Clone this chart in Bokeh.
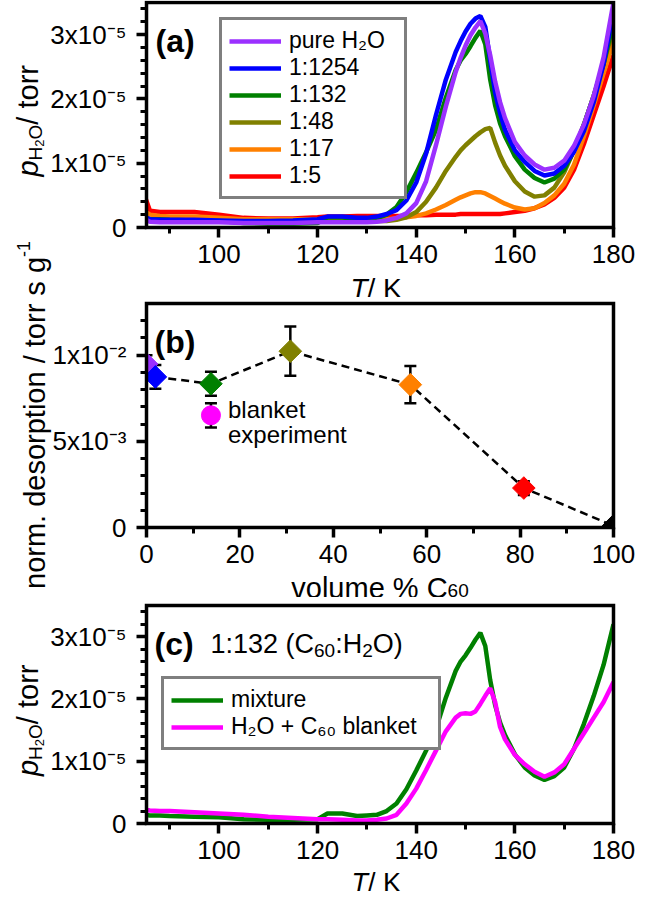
import math
from bokeh.plotting import figure
from bokeh.models import (Range1d, FixedTicker, Label, Legend, LegendItem, ColumnDataSource,
                          Whisker, TeeHead, CustomJSTickFormatter, BoxAnnotation)
from bokeh.layouts import column
from bokeh.embed import file_html
from bokeh.resources import INLINE

FONT = "Liberation Sans"

# ---------------- data ----------------
# temperature grid (K)
temperature = [85, 86, 88, 90, 95, 100, 105, 110, 115, 120, 122, 125, 128, 130, 132, 134, 136, 138,
               140, 142, 144, 146, 148, 149, 150, 151, 152, 153, 154, 155, 156, 157, 158, 160, 162,
               164, 166, 168, 170, 172, 174, 176, 178, 180]
# H2O partial pressure, in units of 1e-5 torr
p_pure = [0.13, 0.09, 0.08, 0.08, 0.08, 0.08, 0.07, 0.07, 0.07, 0.08, 0.08, 0.08, 0.08, 0.08, 0.09, 0.11,
          0.15, 0.22, 0.38, 0.72, 1.28, 1.88, 2.42, 2.64, 2.83, 2.99, 3.11, 3.21, 3.02, 2.68, 2.27, 1.95,
          1.7, 1.33, 1.12, 0.98, 0.9, 0.93, 1.04, 1.27, 1.6, 2.05, 2.65, 3.5]
p_1254 = [0.16, 0.13, 0.12, 0.12, 0.12, 0.11, 0.1, 0.1, 0.11, 0.13, 0.17, 0.17, 0.15, 0.15, 0.17, 0.21,
          0.27, 0.42, 0.7, 1.15, 1.75, 2.3, 2.73, 2.9, 3.05, 3.17, 3.25, 3.29, 3.12, 2.6, 2.1, 1.78,
          1.52, 1.2, 1.02, 0.88, 0.81, 0.84, 0.96, 1.18, 1.5, 1.95, 2.55, 3.37]
p_132 = [0.14, 0.13, 0.13, 0.12, 0.11, 0.1, 0.07, 0.06, 0.06, 0.07, 0.16, 0.16, 0.12, 0.13, 0.14, 0.2,
         0.32, 0.55, 0.85, 1.17, 1.52, 2.02, 2.45, 2.6, 2.7, 2.82, 2.95, 3.06, 2.85, 2.3, 1.9, 1.62,
         1.42, 1.11, 0.9, 0.77, 0.7, 0.76, 0.9, 1.2, 1.6, 2.05, 2.55, 3.2]
p_48 = [0.12, 0.11, 0.11, 0.11, 0.1, 0.1, 0.09, 0.09, 0.09, 0.09, 0.1, 0.1, 0.1, 0.1, 0.1, 0.1,
        0.12, 0.16, 0.24, 0.4, 0.62, 0.88, 1.1, 1.2, 1.28, 1.35, 1.42, 1.48, 1.53, 1.55, 1.32, 1.12,
        0.96, 0.72, 0.56, 0.48, 0.5, 0.62, 0.86, 1.2, 1.6, 2.05, 2.55, 3.1]
p_17 = [0.25, 0.2, 0.18, 0.17, 0.17, 0.15, 0.13, 0.13, 0.13, 0.13, 0.13, 0.13, 0.13, 0.13, 0.13, 0.13,
        0.14, 0.16, 0.18, 0.22, 0.28, 0.35, 0.43, 0.47, 0.5, 0.53, 0.55, 0.55, 0.53, 0.49, 0.45, 0.41,
        0.37, 0.31, 0.28, 0.3, 0.38, 0.5, 0.68, 0.98, 1.42, 1.9, 2.4, 2.9]
p_5 = [0.48, 0.26, 0.24, 0.24, 0.24, 0.2, 0.15, 0.14, 0.14, 0.16, 0.17, 0.17, 0.18, 0.18, 0.18, 0.18,
       0.18, 0.18, 0.19, 0.19, 0.2, 0.2, 0.2, 0.21, 0.21, 0.21, 0.21, 0.21, 0.21, 0.21, 0.21, 0.21,
       0.22, 0.24, 0.26, 0.3, 0.36, 0.46, 0.62, 0.9, 1.3, 1.75, 2.2, 2.68]
p_blanket = [0.22, 0.21, 0.2, 0.2, 0.18, 0.16, 0.14, 0.11, 0.09, 0.07, 0.07, 0.06, 0.05, 0.05, 0.06, 0.08,
             0.14, 0.32, 0.56, 0.86, 1.17, 1.48, 1.7, 1.76, 1.77, 1.76, 1.8, 1.92, 2.05, 2.17, 1.95, 1.55,
             1.35, 1.1, 0.95, 0.83, 0.75, 0.82, 0.95, 1.2, 1.45, 1.7, 1.95, 2.27]
UNIT = 1e-5

series_labels = ["pure H\u2082O", "1:1254", "1:132", "1:48", "1:17", "1:5"]
series_values = [p_pure, p_1254, p_132, p_48, p_17, p_5]
series_colors = ["#9B30FF", "#0000FF", "#008000", "#808000", "#FF8000", "#FF0000"]

# panel (b): normalised desorption vs volume % C60
vol_pct = [0.0, 1.9, 13.8, 30.8, 56.5, 80.8, 100.0]
norm_des = [9.49e-3, 8.74e-3, 8.34e-3, 10.23e-3, 8.29e-3, 2.29e-3, 0.1e-3]
norm_err = [0.5e-3, 0.69e-3, 0.7e-3, 1.43e-3, 1.08e-3, 0.4e-3, 0.0]
point_colors = ["#9B30FF", "#0000FF", "#008000", "#808000", "#FF8000", "#FF0000", "#000000"]
blanket_vol = [13.8]
blanket_des = [6.51e-3]
blanket_err = [0.7e-3]

# ticks and tick labels
T_major = [100, 120, 140, 160, 180]
T_minor = [90, 110, 130, 150, 170]
p_major = [0, 1e-5, 2e-5, 3e-5]
p_minor = [k * 0.2e-5 for k in range(1, 18) if k % 5]
p_tick_labels = ["0", "1x10\u207b\u2075", "2x10\u207b\u2075", "3x10\u207b\u2075"]
v_major = [0, 20, 40, 60, 80, 100]
v_minor = [10, 30, 50, 70, 90]
d_major = [0, 5e-3, 1e-2]
d_minor = [k * 1e-3 for k in range(1, 13) if k % 5]
d_tick_labels = ["0", "5x10\u207b\u00b3", "1x10\u207b\u00b2"]

T_BOX = (85.3, 180.0)
P_BOX = (0.0, 3.5e-5)
V_BOX = (0.0, 100.0)
D_BOX = (0.0, 0.013)

# ---------------- layout helpers ----------------
W = {'0': 556, '1': 556, '2': 556, '3': 556, '4': 556, '5': 556, '6': 556, '7': 556, '8': 556,
     '9': 556, 'x': 500, '-': 333, ':': 278, ' ': 278, '(': 333, ')': 333, 'C': 722, 'H': 722,
     'O': 778, 'T': 611, 'K': 667, '/': 278, 'p': 556, 't': 278, 'o': 556, 'r': 333, 'v': 500,
     'l': 222, 'u': 556, 'm': 833, 'e': 556, '%': 889, 'n': 556, '.': 278, 'd': 556, 's': 500,
     'i': 222, 'g': 556}


def tw(s, size):
    return sum(W.get(c, 556) for c in s) * size / 1000.0


CANVAS_W = 635
BOX_L, BOX_R = 146, 613      # plot box edges, pixels from the canvas' left


class Panel:
    """A figure whose frame is the whole canvas; the plot box is a sub-region of it."""

    def __init__(self, height, box_top, box_bottom, xbox, ybox, xt, xm, yt, ym, ylabels):
        self.dx = (xbox[1] - xbox[0]) / (BOX_R - BOX_L)
        self.dy = (ybox[1] - ybox[0]) / (box_bottom - box_top)
        xr = Range1d(xbox[0] - BOX_L * self.dx, xbox[1] + (CANVAS_W - BOX_R) * self.dx)
        yr = Range1d(ybox[0] - (height - box_bottom) * self.dy, ybox[1] + box_top * self.dy)
        self.xr, self.yr, self.xbox, self.ybox = xr, yr, xbox, ybox
        p = figure(width=CANVAS_W, height=height, frame_width=CANVAS_W, frame_height=height,
                   x_range=xr, y_range=yr,
                   min_border=0, min_border_left=0, min_border_right=0, min_border_top=0,
                   min_border_bottom=0, output_backend="svg", toolbar_location=None,
                   background_fill_color="white", border_fill_color="white",
                   outline_line_color=None)
        p.grid.visible = False
        p.xaxis.ticker = FixedTicker(ticks=xt, minor_ticks=xm)
        p.yaxis.ticker = FixedTicker(ticks=yt, minor_ticks=ym)
        p.yaxis.formatter = CustomJSTickFormatter(args=dict(vals=yt, labs=ylabels), code="""
            for (let i = 0; i < vals.length; i++) {
                if (Math.abs(tick - vals[i]) <= 1e-9 * Math.max(1e-12, Math.abs(vals[i]))) { return labs[i]; }
            }
            return '';
        """)
        p.xaxis.fixed_location = ybox[0]
        p.yaxis.fixed_location = xbox[0]
        for ax in (p.xaxis[0], p.yaxis[0]):
            ax.axis_line_color = None
            ax.major_tick_line_width = 3.5
            ax.minor_tick_line_width = 3
            ax.major_tick_out = 10
            ax.major_tick_in = 0
            ax.minor_tick_out = 6
            ax.minor_tick_in = 0
            ax.major_label_text_font = FONT
            ax.major_label_text_font_size = "26px"
            ax.major_label_text_color = "black"
        p.xaxis.major_label_standoff = 7
        p.yaxis.major_label_standoff = 10
        self.p = p

    def cx(self, px):
        return self.xr.start + px * self.dx

    def cy(self, py):
        return self.yr.end - py * self.dy

    def finish(self):
        # white out whatever spills over the plot box, then draw the box itself
        xr, yr, xb, yb = self.xr, self.yr, self.xbox, self.ybox
        self.p.quad(left=[xr.start, xb[1], xr.start, xr.start], right=[xb[0], xr.end, xr.end, xr.end],
                    bottom=[yr.start, yr.start, yr.start, yb[1]], top=[yr.end, yr.end, yb[0], yr.end],
                    fill_color="white", line_color=None)
        self.p.add_layout(BoxAnnotation(left=xb[0], right=xb[1], bottom=yb[0], top=yb[1],
                                        fill_color=None, fill_alpha=0, line_color="black",
                                        line_alpha=1.0, line_width=3.5, line_join="miter"))

    def text(self, px, py, text, size, style="normal", angle=0.0):
        self.p.add_layout(Label(x=self.cx(px), y=self.cy(py), text=text, angle=angle,
                                text_font=FONT, text_font_size=f"{size}px",
                                text_font_style=style, text_color="black",
                                text_align="left", text_baseline="alphabetic"))

    def hrun(self, px, py, pieces):
        for text, size, style, shift in pieces:
            self.text(px, py + shift, text, size, style)
            px += tw(text, size)

    def vrun(self, px, py, pieces):
        # reads bottom-to-top; shift > 0 moves a piece below the baseline (to the right)
        for text, size, style, shift in pieces:
            self.text(px + shift, py, text, size, style, angle=math.pi / 2)
            py -= tw(text, size)


def style_legend(leg):
    leg.label_text_font = FONT
    leg.label_text_font_size = "23px"
    leg.label_text_color = "black"
    leg.glyph_width = 52
    leg.glyph_height = 26
    leg.label_height = 26
    leg.label_standoff = 8
    leg.padding = 7
    leg.spacing = 0
    leg.margin = 0
    leg.border_line_color = "black"
    leg.border_line_width = 3
    leg.background_fill_color = "white"
    leg.background_fill_alpha = 1.0


P_TITLE = [("p", 29, "italic", 0), ("H", 19, "normal", 8), ("2", 13, "normal", 12),
           ("O", 19, "normal", 8), (" / torr", 29, "normal", 0)]
B_TITLE_MAIN = "norm. desorption / torr"
BOX_CX = (BOX_L + BOX_R) / 2

HA, HB, HC = 297, 300, 294

# ---------------- panel (a) ----------------
A = Panel(HA, 2, 227, T_BOX, P_BOX, T_major, T_minor, p_major, p_minor, p_tick_labels)
rend = {}
for name, vals, col in reversed(list(zip(series_labels, series_values, series_colors))):
    rend[name] = A.p.line(temperature, [v * UNIT for v in vals], line_color=col, line_width=4.5)
A.finish()
leg_a = Legend(items=[LegendItem(label=n, renderers=[rend[n]]) for n in series_labels],
               location=(219, 98))
style_legend(leg_a)
leg_a.label_width = 108
A.p.add_layout(leg_a)
A.text(155, 40, "(a)", 32, "bold")
A.vrun(27, 176, P_TITLE)
# the upper end of panel (b)'s y-axis title reaches up beside panel (a)
B_TITLE_START = 291.5
A.vrun(34, HA + B_TITLE_START - tw(B_TITLE_MAIN + " ", 29),
       [("s g", 29, "normal", 0), ("-1", 18, "normal", -11)])
A.hrun(BOX_CX - 29.6, 288, [("T", 28, "italic", 0), (" / K", 28, "normal", 0)])

# ---------------- panel (b) ----------------
B = Panel(HB, 6, 230, V_BOX, D_BOX, v_major, v_minor, d_major, d_minor, d_tick_labels)
src = ColumnDataSource(dict(x=vol_pct, y=norm_des, color=point_colors,
                            upper=[y + e for y, e in zip(norm_des, norm_err)],
                            lower=[y - e for y, e in zip(norm_des, norm_err)]))
bsrc = ColumnDataSource(dict(x=blanket_vol, y=blanket_des,
                             upper=[y + e for y, e in zip(blanket_des, blanket_err)],
                             lower=[y - e for y, e in zip(blanket_des, blanket_err)]))
for s in (src, bsrc):
    B.p.add_layout(Whisker(source=s, base="x", upper="upper", lower="lower", dimension="height",
                           line_color="black", line_width=2.5, level="underlay",
                           upper_head=TeeHead(size=12, line_width=2.5, line_color="black"),
                           lower_head=TeeHead(size=12, line_width=2.5, line_color="black")))
B.p.line(vol_pct[1:], norm_des[1:], line_color="black", line_width=2.5, line_dash="8 5")
B.p.scatter("x", "y", source=src, marker="square", angle=math.pi / 4, size=16,
            fill_color="color", line_color="color")
B.p.scatter("x", "y", source=bsrc, marker="circle", size=19, fill_color="#FF00FF",
            line_color="#FF00FF")
B.finish()
B.text(154, 44, "(b)", 32, "bold")
B.p.add_layout(Label(x=blanket_vol[0], y=blanket_des[0], x_offset=17, y_offset=-8, text="blanket",
                     text_font=FONT, text_font_size="24px", text_color="black"))
B.p.add_layout(Label(x=blanket_vol[0], y=blanket_des[0], x_offset=17, y_offset=-33, text="experiment",
                     text_font=FONT, text_font_size="24px", text_color="black"))
B.vrun(34, B_TITLE_START, [(B_TITLE_MAIN, 29, "normal", 0)])
B.hrun(BOX_CX - 88.7, 290, [("volume % C", 29, "normal", 0), ("60", 19, "normal", 3)])

# ---------------- panel (c) ----------------
C = Panel(HC, 8, 226, T_BOX, P_BOX, T_major, T_minor, p_major, p_minor, p_tick_labels)
r_mix = C.p.line(temperature, [v * UNIT for v in p_132], line_color="#008000", line_width=4.5)
r_bl = C.p.line(temperature, [v * UNIT for v in p_blanket], line_color="#FF00FF", line_width=4.5)
C.finish()
leg_c = Legend(items=[LegendItem(label="mixture", renderers=[r_mix]),
                      LegendItem(label="H\u2082O + C\u2086\u2080 blanket", renderers=[r_bl])],
               location=(161, 141))
style_legend(leg_c)
leg_c.label_width = 200
C.p.add_layout(leg_c)
C.text(154, 46, "(c)", 32, "bold")
C.hrun(210, 46, [("1:132 (C", 27, "normal", 0), ("60", 19, "normal", 7), (":H", 27, "normal", 0),
                 ("2", 19, "normal", 7), ("O)", 27, "normal", 0)])
C.vrun(27, 178.5, P_TITLE)
C.hrun(BOX_CX - 28.5, 285, [("T", 27, "italic", 0), (" / K", 27, "normal", 0)])

layout = column(A.p, B.p, C.p)
open("out.html", "w").write(file_html(layout, INLINE))
